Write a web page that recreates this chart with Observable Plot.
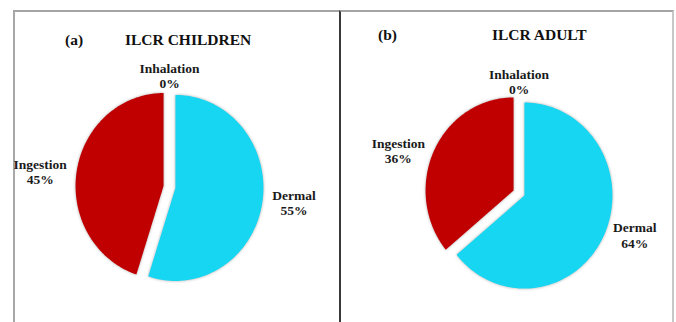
<!DOCTYPE html>
<html>
<head>
<meta charset="utf-8">
<script src="https://cdn.jsdelivr.net/npm/d3@7"></script>
<script src="https://cdn.jsdelivr.net/npm/@observablehq/plot@0.6"></script>
<style>
  html, body { margin: 0; padding: 0; background: #fff; }
  #fig { position: relative; width: 676px; height: 322px; overflow: hidden; background: #fff;
         font-family: "Liberation Serif", "Times New Roman", serif; }
  .panel { position: absolute; top: 10px; height: 312px; box-sizing: border-box; border-top: 2px solid #a4a4a4; }
  #pa { left: 13px; width: 326px; border-left: 2px solid #a8a8a8; }
  #pb { left: 339px; width: 335px; border-left: 2px solid #383838; border-right: 2px solid #c8c8c8; }
  .panel svg { position: absolute; left: 0; top: 0; }
  .head { position: absolute; font-size: 15.5px; font-weight: bold; line-height: 1; color: #111; white-space: nowrap; z-index: 2; }
  .panel svg g[aria-label="line"] path { filter: drop-shadow(0 0 1.6px rgba(0,0,0,0.32)); }
</style>
</head>
<body>
<div id="fig">
  <div class="panel" id="pa">
    <span class="head" style="left:50px; top:20px;" id="tagA"></span>
    <span class="head" style="left:110px; top:20px;" id="titleA"></span>
  </div>
  <div class="panel" id="pb">
    <span class="head" style="left:37px; top:15px;" id="tagB"></span>
    <span class="head" style="left:151px; top:15px;" id="titleB"></span>
  </div>
</div>
<script>
// Exposure pathways and their share (%) of the incremental lifetime cancer risk
const pathways = ["Dermal", "Ingestion", "Inhalation"];
const childrenShare = [55, 45, 0];
const adultShare = [64, 36, 0];
const sliceColors = ["#17d6f1", "#c00000", "#a5a5a5"];
const panelTags = ["(a)", "(b)"];
const panelTitles = ["ILCR CHILDREN", "ILCR ADULT"];

// Pie geometry (pixels): horizontal / vertical radius, slice explosion, label gap
const RX = 88, RY = 93, EXPLODE = 6, LABEL_GAP = 10;
const LABEL_FONT = {family: "Liberation Serif, Times New Roman, serif", size: 13.5};

// width of the widest line of a label, so each block of lines stays centred on itself
const measureCtx = document.createElement("canvas").getContext("2d");
function blockWidth(text) {
  measureCtx.font = `bold ${LABEL_FONT.size}px ${LABEL_FONT.family}`;
  return d3.max(text.split("\n"), line => measureCtx.measureText(line).width);
}

function pieChart(shares, {width, height, cx, cy}) {
  const total = d3.sum(shares);
  let acc = 0;
  const wedges = [], labels = [];
  pathways.forEach((name, i) => {
    const v = shares[i];
    // angles measured clockwise from 12 o'clock
    const a0 = acc / total * 2 * Math.PI;
    acc += v;
    const a1 = acc / total * 2 * Math.PI;
    const mid = (a0 + a1) / 2;
    const s = Math.sin(mid), c = Math.cos(mid);
    const ox = EXPLODE / RX * s, oy = EXPLODE / RY * c;
    if (v > 0) {
      const n = Math.max(2, Math.ceil((a1 - a0) / (Math.PI / 180)));
      wedges.push({name, x: ox, y: oy});
      for (let k = 0; k <= n; ++k) {
        const t = a0 + (a1 - a0) * k / n;
        wedges.push({name, x: ox + Math.sin(t), y: oy + Math.cos(t)});
      }
      wedges.push({name, x: ox, y: oy});
    }
    const side = s > 0.35 ? "right" : s < -0.35 ? "left" : c >= 0 ? "top" : "bottom";
    const gap = side === "left" || side === "right" ? LABEL_GAP / RX : 0;
    labels.push({name, side, text: `${name}\n${v}%`, x: ox + s * (1 + gap), y: oy + c});
  });

  const textStyle = {x: "x", y: "y", text: "text", fontFamily: LABEL_FONT.family,
                     fontWeight: "bold", fontSize: LABEL_FONT.size, lineHeight: 1.12,
                     fill: "#1a1a1a", textAnchor: "middle"};
  const labelMarks = labels.map(d => {
    const half = blockWidth(d.text) / 2;
    const dx = d.side === "right" ? half : d.side === "left" ? -half : 0;
    const lineAnchor = d.side === "top" ? "bottom" : d.side === "bottom" ? "top" : "middle";
    return Plot.text([d], {...textStyle, dx, lineAnchor});
  });

  return Plot.plot({
    width, height, margin: 0,
    style: {background: "transparent", overflow: "visible"},
    x: {domain: [-cx / RX, (width - cx) / RX], axis: null},
    y: {domain: [-(height - cy) / RY, cy / RY], axis: null},
    color: {domain: pathways, range: sliceColors},
    marks: [
      Plot.line(wedges, {x: "x", y: "y", z: "name", fill: "name", stroke: "none", curve: "linear"}),
      ...labelMarks
    ]
  });
}

document.getElementById("tagA").textContent = panelTags[0];
document.getElementById("titleA").textContent = panelTitles[0];
document.getElementById("tagB").textContent = panelTags[1];
document.getElementById("titleB").textContent = panelTitles[1];

document.getElementById("pa").appendChild(pieChart(childrenShare, {width: 324, height: 310, cx: 154, cy: 174.5}));
document.getElementById("pb").appendChild(pieChart(adultShare, {width: 331, height: 310, cx: 177.5, cy: 180.5}));
</script>
</body>
</html>
